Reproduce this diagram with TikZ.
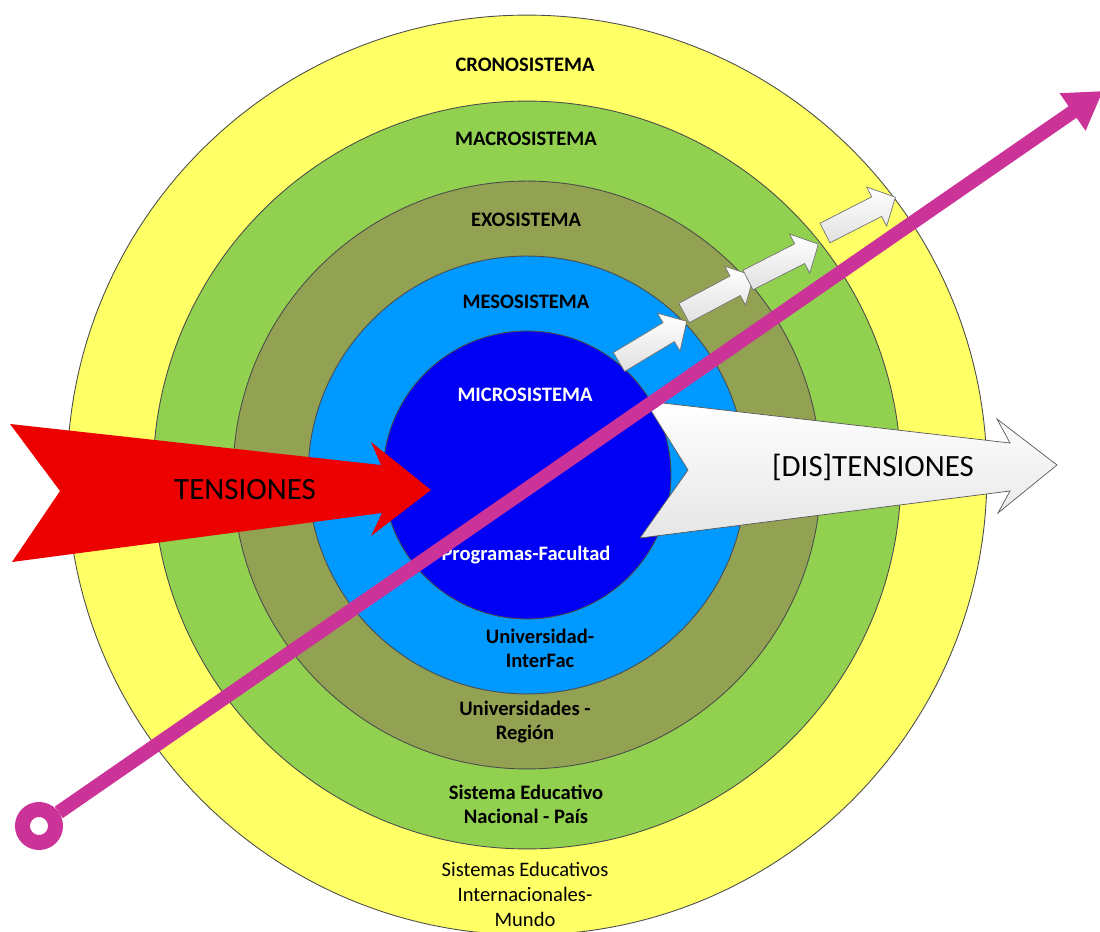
\documentclass[tikz,border=0pt]{standalone}
\usepackage{fontspec}
\setmainfont{Carlito}
\usetikzlibrary{arrows.meta}

\definecolor{cronoyellow}{RGB}{255,255,102}
\definecolor{macrogreen}{RGB}{146,208,80}
\definecolor{exoolive}{RGB}{147,161,82}
\definecolor{mesoblue}{RGB}{0,153,255}
\definecolor{microblue}{RGB}{0,0,245}
\definecolor{tensionred}{RGB}{236,0,0}
\definecolor{tensionpink}{RGB}{204,51,153}

\begin{document}
\begin{tikzpicture}[x=0.02cm, y=-0.02cm]
    \tikzset{
      ring/.style={draw=black!70, line width=0.5pt}, % outline of every system circle
      syslabel/.style={font=\fontsize{11.7}{13.7}\selectfont\bfseries, align=center}, % names inside the circles
      arrowtext/.style={font=\fontsize{17.6}{20}\selectfont}, % text on the two big arrows
      stepper/.style={draw=black!55, line width=0.4pt, top color=white, bottom color=black!12}, % small white arrows
      redarrow/.style={fill=tensionred, draw=none}, % the TENSIONES arrow
      whitearrow/.style={draw=black!65, line width=0.4pt, top color=white, bottom color=black!10}, % the [DIS]TENSIONES arrow
      startring/.style={circle, draw=tensionpink, line width=0.3cm, fill=white, inner sep=0pt, minimum size=0.66cm}, % ring at the start of the line
      tensionline/.style={draw=tensionpink, line width=0.28cm, -{Triangle[length=0.74cm, width=0.86cm]}}, % the long diagonal arrow
    }

    \useasboundingbox (0,0) rectangle (1100,932);
    \coordinate (c) at (527,475);

    % the five nested systems
    \foreach \r/\col in {9.2/cronoyellow, 7.48/macrogreen, 5.88/exoolive, 4.38/mesoblue, 2.88/microblue}
      \filldraw[ring, fill=\col] (c) circle[radius=\r cm];

    \node[syslabel] (crono) at (525,65) {CRONOSISTEMA};
    \node[syslabel] (macro) at (526,139) {MACROSISTEMA};
    \node[syslabel] (exo) at (526,220) {EXOSISTEMA};
    \node[syslabel] (meso) at (526,302) {MESOSISTEMA};
    \node[syslabel, text=white] (micro) at (525,395) {MICROSISTEMA};
    \node[syslabel, text=white] (faculty) at (526,555) {Programas-Facultad};
    \node[syslabel] (univ) at (540,648) {Universidad-\\InterFac};
    \node[syslabel] (region) at (525,722) {Universidades -\\Región};
    \node[syslabel] (country) at (526,804) {Sistema Educativo\\Nacional - País};
    \node[syslabel, font=\fontsize{11.7}{14.2}\selectfont] (world) at (525,894) {Sistemas Educativos\\Internacionales-\\Mundo};

    % small arrows going outwards
    \foreach \tx/\ty/\a in {619/362/31, 684/313/28, 748/280/27, 825/233/27}
      \draw[stepper, shift={(\tx,\ty)}, rotate=\a] (0,-11) -- (58,-11) -- (58,-22) -- (79,0) -- (58,22) -- (58,11) -- (0,11) -- cycle;

    \draw[redarrow] (10,424) -- (381,465) -- (371,442) -- (431,490) -- (371,536) -- (382,513) -- (12,562) -- (60,491) -- cycle;
    \node[arrowtext] (tensions) at (245,490) {TENSIONES};

    \draw[whitearrow] (645,401) -- (1010,443) -- (997,419) -- (1057,465) -- (998,513) -- (1010,491) -- (640,538) -- (688,470) -- cycle;
    \node[arrowtext] (distensions) at (873,467) {[DIS]TENSIONES};

    \node[startring] (origin) at (39,826) {};
    \coordinate (tip) at (1103,91);
    \draw[tensionline] (origin) -- (tip);
\end{tikzpicture}
\end{document}
